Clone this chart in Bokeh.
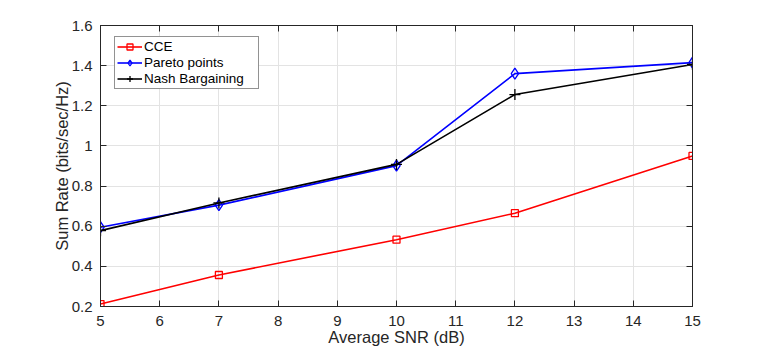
from bokeh.plotting import figure
from bokeh.models import FixedTicker, LinearAxis, CustomJSTickFormatter
from bokeh.embed import file_html
from bokeh.resources import INLINE

# ---- data ----
snr = [5, 7, 10, 12, 15]
cce = [0.212, 0.357, 0.533, 0.665, 0.950]
pareto = [0.595, 0.705, 0.902, 1.360, 1.415]
nash = [0.578, 0.716, 0.908, 1.256, 1.406]

x_ticks = [5, 6, 7, 8, 9, 10, 11, 12, 13, 14, 15]
y_ticks = [0.2, 0.4, 0.6, 0.8, 1, 1.2, 1.4, 1.6]
y_tick_labels = ["0.2", "0.4", "0.6", "0.8", "1", "1.2", "1.4", "1.6"]

x_label = "Average SNR (dB)"
y_label = "Sum Rate (bits/sec/Hz)"
names = ["CCE", "Pareto points", "Nash Bargaining"]

FONT = "Liberation Sans"
TXT = "#262626"
GRID = "#e3e3e3"

p = figure(width=764, height=348, output_backend="svg", toolbar_location=None,
           x_range=(5, 15), y_range=(0.2, 1.6),
           min_border_left=100, min_border_right=72, min_border_top=25, min_border_bottom=42)
p.outline_line_color = TXT
p.outline_line_width = 1
p.background_fill_color = "white"
p.border_fill_color = "white"

for ax, ticks in ((p.xaxis[0], x_ticks), (p.yaxis[0], y_ticks)):
    ax.ticker = FixedTicker(ticks=ticks)
    ax.major_tick_in = 6
    ax.major_tick_out = 0
    ax.minor_tick_line_color = None
    ax.axis_line_color = TXT
    ax.major_tick_line_color = TXT
    ax.major_label_text_font = FONT
    ax.major_label_text_font_size = "15px"
    ax.major_label_text_color = TXT
    ax.axis_label_text_font = FONT
    ax.axis_label_text_font_size = "16.5px"
    ax.axis_label_text_font_style = "normal"
    ax.axis_label_text_color = TXT

p.xaxis[0].axis_label = x_label
p.yaxis[0].axis_label = y_label
p.xaxis[0].major_label_standoff = 9
p.xaxis[0].axis_label_standoff = -1
p.yaxis[0].major_label_standoff = 8
p.yaxis[0].axis_label_standoff = -2
p.yaxis[0].major_label_overrides = dict(zip(y_ticks, y_tick_labels))

empty = CustomJSTickFormatter(code="return ''")
for loc, ticks in (("right", y_ticks), ("above", x_ticks)):
    a = LinearAxis(ticker=FixedTicker(ticks=ticks), formatter=empty,
                   major_tick_in=6, major_tick_out=0, minor_tick_line_color=None,
                   axis_line_color=TXT, major_tick_line_color=TXT,
                   major_label_standoff=0)
    p.add_layout(a, loc)

p.xgrid.ticker = FixedTicker(ticks=x_ticks)
p.ygrid.ticker = FixedTicker(ticks=y_ticks)
p.xgrid.grid_line_color = GRID
p.ygrid.grid_line_color = GRID

series = [
    (cce, "#ff0000", "square", 7, names[0]),
    (pareto, "#0000ff", "diamond", 11, names[1]),
    (nash, "#000000", "cross", 11, names[2]),
]
for ys, col, mk, sz, name in series:
    p.line(snr, ys, line_color=col, line_width=1.6, legend_label=name)
    p.scatter(snr, ys, marker=mk, size=sz, line_color=col, fill_color=None,
              line_width=1.3, legend_label=name)

lg = p.legend[0]
lg.location = (14, 217)
lg.border_line_color = TXT
lg.border_line_width = 1
lg.background_fill_color = "white"
lg.background_fill_alpha = 1
lg.label_text_font = FONT
lg.label_text_font_size = "13.5px"
lg.label_text_color = "#000000"
lg.glyph_width = 25
lg.glyph_height = 15
lg.label_height = 15
lg.label_width = 112
lg.label_standoff = 2
lg.spacing = 1
lg.padding = 2
lg.margin = 0

open("out.html", "w").write(file_html(p, INLINE))
